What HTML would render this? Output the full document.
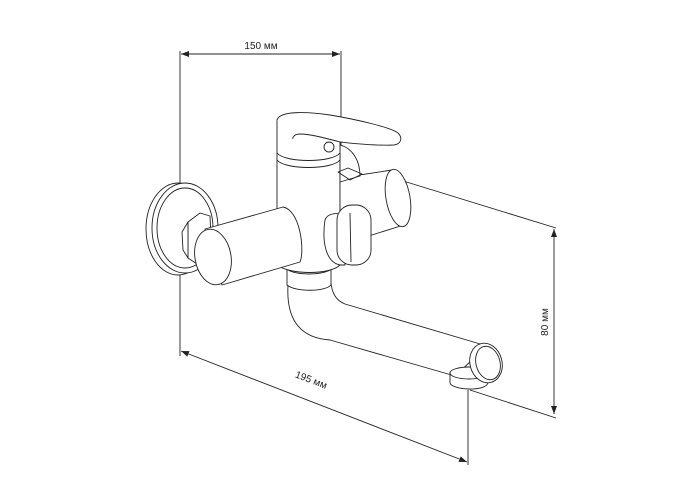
<!DOCTYPE html>
<html><head><meta charset="utf-8"><style>
html,body{margin:0;padding:0;background:#fff;}
svg{display:block;}
text{font-family:"Liberation Sans",sans-serif;font-size:10px;fill:#222;}
</style></head><body>
<svg width="700" height="500" viewBox="0 0 700 500" xmlns="http://www.w3.org/2000/svg">
<defs>
<marker id="a" markerWidth="8" markerHeight="6" refX="8" refY="3" orient="auto" markerUnits="userSpaceOnUse">
<path d="M0,0 L8,3 L0,6 Z" fill="#222"/></marker>
<marker id="b" markerWidth="8" markerHeight="6" refX="0" refY="3" orient="auto" markerUnits="userSpaceOnUse">
<path d="M8,0 L0,3 L8,6 Z" fill="#222"/></marker>
</defs>
<g stroke="#222" stroke-width="0.9" fill="none">
<line x1="180" y1="51" x2="180" y2="356"/>
<line x1="341" y1="51" x2="341" y2="160"/>
<line x1="181" y1="54" x2="340" y2="54" marker-start="url(#b)" marker-end="url(#a)"/>
<line x1="181" y1="351" x2="467" y2="462" marker-start="url(#b)" marker-end="url(#a)"/>
<line x1="468" y1="390" x2="468" y2="465"/>
<line x1="400" y1="180" x2="556" y2="228"/>
<line x1="470" y1="390" x2="556" y2="418"/>
<line x1="554" y1="229" x2="554" y2="414" marker-start="url(#b)" marker-end="url(#a)"/>
</g>
<text x="261" y="49" text-anchor="middle">150 мм</text>
<text transform="translate(310,383) rotate(21)" text-anchor="middle">195 мм</text>
<text transform="translate(548,322) rotate(-90)" text-anchor="middle">80 мм</text>

<g stroke="#222" stroke-width="0.9" fill="#fff" stroke-linejoin="round">
<!-- flange -->
<ellipse cx="178" cy="229" rx="32" ry="46"/>
<ellipse cx="185" cy="228" rx="33" ry="45"/>
<ellipse cx="185" cy="228" rx="28" ry="40" fill="none"/>
<!-- hex nut -->
<path d="M188,222 L200,213 L210,216 L212,260 L200,266 L188,258 Z"/>
<path d="M182,232 L188,222 L188,258 L183,250 Z"/>
<!-- spout pipe -->
<path d="M288,285 C286,320 300,338 330,340 L455,376 L487,346 L345,304 C335,300 332,292 331,283 Z"/>
<!-- aerator -->
<path d="M450,372 L450,383 C452,390 485,392 488,383 L488,372 Z"/>
<ellipse cx="469" cy="373" rx="19" ry="6"/>
<ellipse cx="486" cy="363" rx="16" ry="20" transform="rotate(-15 486 363)"/>
<ellipse cx="488" cy="363" rx="12" ry="17" fill="none" transform="rotate(-15 488 363)"/>
<!-- collar -->
<path d="M287,268 L287,285 C295,292 325,292 331,285 L331,268 Z"/>
<ellipse cx="309" cy="268" rx="22" ry="6"/>
<!-- body -->
<path d="M277,158 L277,265 C290,275 330,275 340,265 L340,158 Z"/>
<!-- right cylinder -->
<path d="M340,178 L392,170 L407,224 L340,245 Z"/>
<ellipse cx="398" cy="198" rx="12" ry="29" transform="rotate(-10 398 198)"/>
<path d="M340,145 C352,148 360,160 360,176 L340,182 Z"/>
<path d="M338,172 L348,168 L362,174 L350,180 Z" fill="none"/>
<!-- left cylinder -->
<path d="M205,229 L283,207 C300,210 305,250 300,262 L222,285 Z"/>
<ellipse cx="213" cy="257" rx="18" ry="28" transform="rotate(-10 213 257)"/>
<!-- knob -->
<path d="M325,220 C322,240 325,262 340,265 L345,265 L345,215 C335,212 327,214 325,220 Z"/>
<rect x="337" y="205" width="34" height="60" rx="15"/>
<path d="M350,213 L351,262" fill="none"/>
<!-- cap -->
<path d="M277,120 L277,160 C285,170 332,170 340,160 L340,120 Z"/>
<path d="M277,153 C285,163 332,163 340,153" fill="none"/>
<!-- lever -->
<path d="M277,120 C280,110 310,112 330,115 C360,120 392,128 398,133 C403,138 401,144 394,145 C375,146 350,143 340,142 C325,138 310,134 300,134 C295,134 292,137 293,139" />
<circle cx="329" cy="147" r="5"/>
</g>
</svg>
</body></html>
